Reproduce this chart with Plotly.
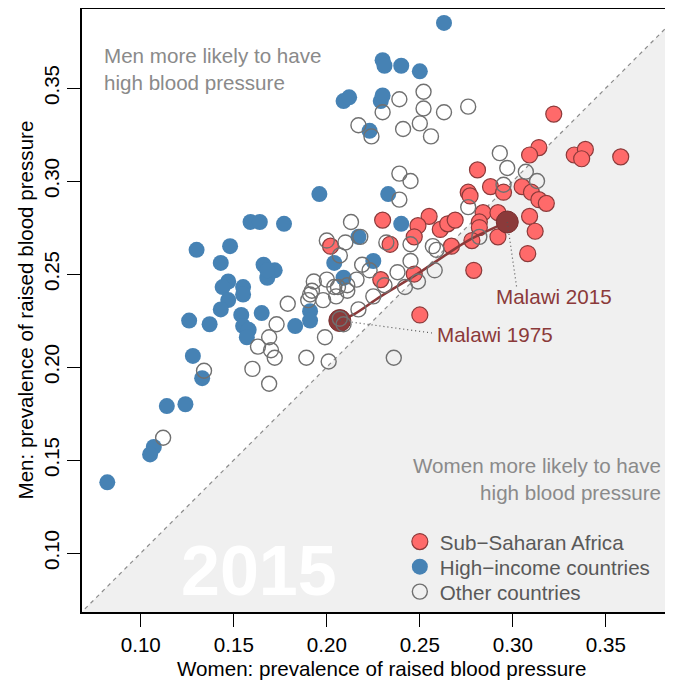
import plotly.graph_objects as go

# women / men prevalence of raised blood pressure, 2015
ssa_women = [0.322, 0.314, 0.309, 0.333, 0.339, 0.337, 0.281, 0.288, 0.276, 0.277,
             0.305, 0.310, 0.314, 0.318, 0.295, 0.284, 0.282, 0.282, 0.292, 0.309,
             0.312, 0.292, 0.278, 0.267, 0.255, 0.249, 0.247, 0.261, 0.265, 0.269,
             0.230, 0.234, 0.202, 0.229, 0.247, 0.279, 0.308, 0.250, 0.358]
ssa_men = [0.336, 0.318, 0.314, 0.314, 0.317, 0.312, 0.306, 0.297, 0.294, 0.292,
           0.297, 0.294, 0.290, 0.288, 0.294, 0.283, 0.278, 0.275, 0.283, 0.281,
           0.273, 0.270, 0.268, 0.265, 0.281, 0.276, 0.270, 0.274, 0.277, 0.279,
           0.279, 0.266, 0.265, 0.247, 0.250, 0.252, 0.261, 0.228, 0.313]

hic_women = [0.263, 0.230, 0.231, 0.240, 0.250, 0.209, 0.212, 0.229, 0.230, 0.223,
             0.196, 0.233, 0.159, 0.164, 0.177, 0.130, 0.148, 0.143, 0.166, 0.172,
             0.168, 0.168, 0.147, 0.144, 0.155, 0.155, 0.147, 0.143, 0.154, 0.165,
             0.126, 0.137, 0.155, 0.158, 0.157, 0.183, 0.191, 0.191, 0.209, 0.204,
             0.225, 0.217, 0.240, 0.128, 0.133, 0.114, 0.124, 0.107, 0.105, 0.082]
hic_men = [0.385, 0.365, 0.362, 0.362, 0.359, 0.343, 0.345, 0.343, 0.346, 0.327,
           0.293, 0.293, 0.278, 0.278, 0.277, 0.263, 0.265, 0.256, 0.255, 0.252,
           0.248, 0.252, 0.246, 0.243, 0.243, 0.239, 0.236, 0.231, 0.228, 0.229,
           0.225, 0.223, 0.222, 0.220, 0.216, 0.222, 0.230, 0.225, 0.248, 0.256,
           0.257, 0.270, 0.277, 0.206, 0.194, 0.179, 0.180, 0.157, 0.153, 0.138]

other_women = [0.252, 0.239, 0.252, 0.263, 0.276, 0.230, 0.217, 0.224, 0.241, 0.250,
               0.256, 0.239, 0.245, 0.239, 0.293, 0.297, 0.307, 0.313, 0.276, 0.295,
               0.213, 0.200, 0.210, 0.218, 0.232, 0.245, 0.257, 0.259, 0.207, 0.193,
               0.200, 0.206, 0.211, 0.216, 0.219, 0.223, 0.238, 0.245, 0.249, 0.258,
               0.192, 0.190, 0.198, 0.179, 0.205, 0.211, 0.217, 0.231, 0.242, 0.282,
               0.199, 0.134, 0.112, 0.160, 0.169, 0.163, 0.169, 0.170, 0.172, 0.191,
               0.173, 0.189, 0.201, 0.225, 0.204, 0.236, 0.207, 0.209]
other_men = [0.348, 0.344, 0.339, 0.337, 0.340, 0.337, 0.330, 0.324, 0.328, 0.331,
             0.324, 0.304, 0.300, 0.290, 0.315, 0.307, 0.305, 0.300, 0.286, 0.298,
             0.278, 0.268, 0.267, 0.270, 0.267, 0.266, 0.265, 0.263, 0.260, 0.246,
             0.247, 0.243, 0.244, 0.247, 0.255, 0.252, 0.251, 0.257, 0.246, 0.252,
             0.241, 0.236, 0.236, 0.234, 0.238, 0.241, 0.231, 0.244, 0.243, 0.270,
             0.216, 0.198, 0.162, 0.199, 0.191, 0.211, 0.216, 0.209, 0.205, 0.239,
             0.223, 0.205, 0.203, 0.238, 0.243, 0.205, 0.226, 0.223]

# Malawi trajectory 1975 -> 2015
malawi_women = [0.207, 0.214, 0.229, 0.247, 0.265, 0.276, 0.297]
malawi_men = [0.225, 0.228, 0.238, 0.249, 0.261, 0.268, 0.278]

tick_vals = [0.10, 0.15, 0.20, 0.25, 0.30, 0.35]
tick_text = ["0.10", "0.15", "0.20", "0.25", "0.30", "0.35"]

X_RANGE = [0.0684, 0.3861]
Y_RANGE = [0.0683, 0.3925]
DIAG = [0.0, 0.5]

FONT = "Liberation Sans, Arial, Helvetica, sans-serif"
FS = 20.6
RED = "#FF6A6A"
DARK_RED = "#8B3A3A"
BLUE = "#4682B4"
GREY_TXT = "#8a8a8a"

fig = go.Figure()

# shaded half: women more likely
fig.add_trace(go.Scatter(
    x=[DIAG[0], DIAG[1], DIAG[1], DIAG[0]], y=[DIAG[0], DIAG[1], DIAG[0], DIAG[0]],
    mode='lines', fill='toself', fillcolor='#f0f0f0', line=dict(width=0),
    hoverinfo='skip', showlegend=False))

# equality line
fig.add_trace(go.Scatter(
    x=DIAG, y=DIAG, mode='lines', line=dict(color='#8c8c8c', width=1.2, dash='4px,4px'),
    hoverinfo='skip', showlegend=False))

fig.add_trace(go.Scatter(
    x=hic_women, y=hic_men, mode='markers', name='High\u2212income countries', legend='legend2',
    marker=dict(size=16, color=BLUE, line=dict(width=0))))

fig.add_trace(go.Scatter(
    x=ssa_women, y=ssa_men, mode='markers', name='Sub\u2212Saharan Africa', legend='legend',
    marker=dict(size=16, color=RED, line=dict(width=1.2, color=DARK_RED))))

# Malawi path and end points
fig.add_trace(go.Scatter(
    x=malawi_women, y=malawi_men, mode='lines', line=dict(color=DARK_RED, width=2.5, shape='spline'),
    hoverinfo='skip', showlegend=False))
fig.add_trace(go.Scatter(
    x=[malawi_women[0], malawi_women[-1]], y=[malawi_men[0], malawi_men[-1]], mode='markers',
    marker=dict(size=22, color=DARK_RED, line=dict(width=1, color='#7a3030')),
    showlegend=False))

fig.add_trace(go.Scatter(
    x=other_women, y=other_men, mode='markers', name='Other countries', legend='legend3',
    marker=dict(size=15, color='rgba(0,0,0,0)', line=dict(width=1.4, color='#707070'))))

# leader lines for Malawi labels
label_1975 = (0.2567, 0.2183)
label_2015 = (0.3020, 0.2433)
fig.add_trace(go.Scatter(
    x=[malawi_women[0], label_1975[0], None, malawi_women[-1], label_2015[0]],
    y=[malawi_men[0], label_1975[1], None, malawi_men[-1], label_2015[1]],
    mode='lines', line=dict(color='#555555', width=1.2, dash='1px,3px'),
    hoverinfo='skip', showlegend=False))

annotations = [
    dict(x=0.2579, y=0.2174, text="Malawi 1975", xanchor='left', yanchor='middle',
         font=dict(size=FS, color=DARK_RED)),
    dict(x=0.2898, y=0.2380, text="Malawi 2015", xanchor='left', yanchor='middle',
         font=dict(size=FS, color=DARK_RED)),
    dict(x=0.0790, y=0.3601, text="Men more likely to have<br>high blood pressure", xanchor='left',
         yanchor='middle', align='left', font=dict(size=FS, color=GREY_TXT)),
    dict(x=0.3805, y=0.1398, text="Women more likely to have<br>high blood pressure", xanchor='right',
         yanchor='middle', align='right', font=dict(size=FS, color=GREY_TXT)),
    dict(x=0.1633, y=0.0905, text="<b>2015</b>", xanchor='center', yanchor='middle',
         font=dict(size=70, color='white')),
    # axis titles
    dict(xref='paper', yref='paper', x=0.507, y=0, yshift=-56, text="Women: prevalence of raised blood pressure",
         xanchor='center', yanchor='middle', font=dict(size=FS, color='black')),
    dict(xref='paper', yref='paper', x=0, y=0.5, xshift=-57, text="Men: prevalence of raised blood pressure",
         textangle=-90, xanchor='center', yanchor='middle', font=dict(size=FS, color='black')),
]
for a in annotations:
    a.setdefault('showarrow', False)

axis_common = dict(
    tickvals=tick_vals, ticktext=tick_text, showgrid=False, zeroline=False,
    showline=True, linecolor='black', linewidth=2, ticks='outside', ticklen=13,
    tickwidth=1.3, tickcolor='black', tickfont=dict(size=FS, color='black'))

legend_common = dict(x=0.5378, xanchor='left', yanchor='top', bgcolor='rgba(0,0,0,0)',
                     font=dict(size=FS, color='#595959'))

# page body adds 8px, so the figure is 8px smaller than the window
fig.update_layout(
    width=665, height=676,
    margin=dict(l=74, r=0, t=1, b=72, autoexpand=False),
    plot_bgcolor='white', paper_bgcolor='white',
    font=dict(family=FONT),
    xaxis=dict(range=X_RANGE, mirror=True, **axis_common),
    yaxis=dict(range=Y_RANGE, tickangle=-90, **axis_common),
    legend=dict(y=0.1498, **legend_common),
    legend2=dict(y=0.1082, **legend_common),
    legend3=dict(y=0.0668, **legend_common),
    annotations=annotations,
    showlegend=True,
)

fig.write_html("out.html")
